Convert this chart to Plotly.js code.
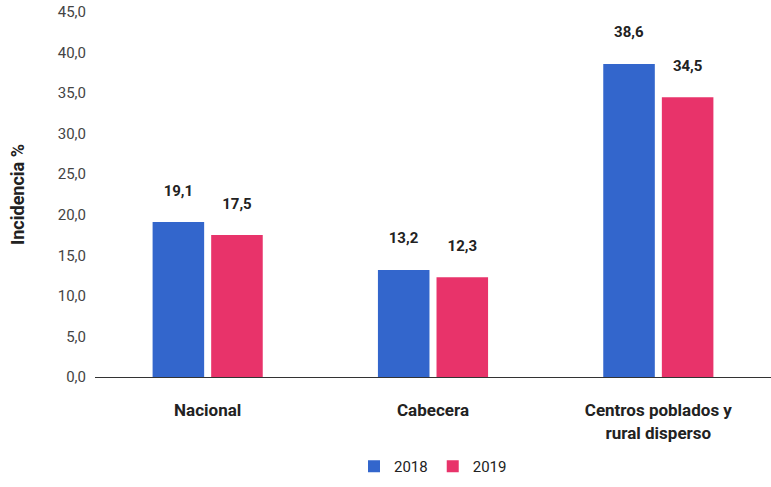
<!DOCTYPE html>
<html>
<head>
<meta charset="utf-8">
<script src="https://cdn.plot.ly/plotly-3.0.1.min.js"></script>
<style>body{margin:0}#chart{width:771px;height:487px}</style>
</head>
<body>
<div id="chart"></div>
<script>
var categories = ['Nacional', 'Cabecera', 'Centros poblados y<br>rural disperso'];
var values2018 = [19.1, 13.2, 38.6];
var values2019 = [17.5, 12.3, 34.5];

function fmt(v) { return v.toFixed(1).replace('.', ','); }

var trace1 = {
    x: categories, y: values2018, name: '2018', type: 'bar',
    marker: {color: '#3366cc'},
    text: values2018.map(fmt), texttemplate: '<b>%{text}</b><br> ', textposition: 'outside', cliponaxis: false,
    textfont: {family: 'Roboto', size: 15, color: '#222'}
};
var trace2 = {
    x: categories, y: values2019, name: '2019', type: 'bar',
    marker: {color: '#e8336a'},
    text: values2019.map(fmt), texttemplate: '<b>%{text}</b><br> ', textposition: 'outside', cliponaxis: false,
    textfont: {family: 'Roboto', size: 15, color: '#222'}
};

var layout = {
    width: 771, height: 487,
    margin: {l: 95, r: 0, t: 12, b: 110},
    font: {family: 'Roboto', color: '#222'},
    separators: ',.',
    barmode: 'group', bargap: 0.48, bargroupgap: 0.12,
    showlegend: true,
    legend: {orientation: 'h', x: 0.5, xanchor: 'center', y: -0.2, yanchor: 'top', font: {size: 15}},
    xaxis: {showline: true, linecolor: '#333', tickfont: {size: 17, weight: 'bold'}, ticks: '', ticklabelstandoff: 18},
    yaxis: {range: [0, 45], dtick: 5, tickformat: '.1f', showgrid: false, zeroline: false,
        tickfont: {size: 15, color: '#444'}, ticklabelstandoff: 8,
        title: {text: '<b>Incidencia %</b>', font: {size: 18}, standoff: 28}},
    plot_bgcolor: 'white', paper_bgcolor: 'white'
};

Plotly.newPlot('chart', [trace1, trace2], layout, {displayModeBar: false});
</script>
</body>
</html>
